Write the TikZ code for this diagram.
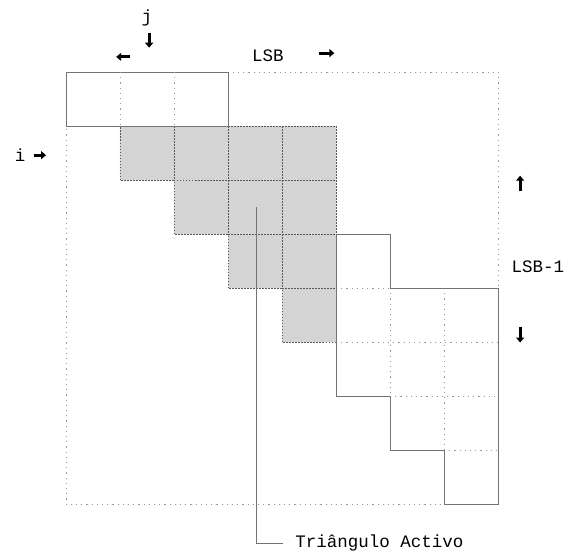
\documentclass[tikz,border=0pt]{standalone}
\usepackage{fontspec}
\setmonofont{Liberation Mono}
\usetikzlibrary{arrows.meta}

\tikzset{
  gridline/.style={draw=black!40, line width=0.7pt, dash pattern=on 1.2pt off 4pt},
  cellline/.style={draw=black!55, line width=0.7pt},
  shadeline/.style={draw=black!65, line width=0.7pt, dash pattern=on 1.5pt off 1.5pt},
  tick/.style={line width=3pt, -{Triangle[length=5pt,width=8pt]}},
  lbl/.style={font=\ttfamily\fontsize{17.5}{20}\selectfont, inner sep=0pt},
}

\begin{document}
\begin{tikzpicture}[x=54pt, y=-54pt]
\useasboundingbox (-1.2222,-1.3333) rectangle (9.2407,8.8889);

% outer frame LSB x LSB-1
\draw[gridline] (0,0) rectangle (8,8);

% shaded active triangle
\fill[black!17] (1,1) -- (5,1) -- (5,5) -- (4,5) -- (4,4) -- (3,4) -- (3,3)
  -- (2,3) -- (2,2) -- (1,2) -- cycle;
\foreach \k in {2,3,4} {
  \draw[shadeline] (\k,\k) -- (5,\k);
  \draw[shadeline] (\k,1) -- (\k,\k);
}
\draw[shadeline] (1,1) -- (5,1) -- (5,5) -- (4,5) -- (4,4) -- (3,4) -- (3,3)
  -- (2,3) -- (2,2) -- (1,2) -- cycle;

% first row
\draw[cellline] (0,0) rectangle (3,1);
\foreach \k in {1,2} \draw[gridline] (\k,0) -- (\k,1);

% lower staircase
\draw[gridline] (5,4) -- (6,4);
\draw[gridline] (5,5) -- (8,5);
\draw[gridline] (6,6) -- (8,6);
\draw[gridline] (7,7) -- (8,7);
\draw[gridline] (6,4) -- (6,6);
\draw[gridline] (7,4) -- (7,7);
\draw[cellline] (5,3) -- (6,3) -- (6,4) -- (8,4) -- (8,8) -- (7,8) -- (7,7)
  -- (6,7) -- (6,6) -- (5,6) -- cycle;

% labels and markers
\node[lbl] (j) at (1.5,-1.0) {j};
\draw[tick] (1.54,-0.72) -- (1.54,-0.45);
\draw[tick] (1.19,-0.28) -- (0.93,-0.28);
\node[lbl] (lsb) at (3.74,-0.31) {LSB};
\draw[tick] (4.69,-0.35) -- (4.97,-0.35);

\node[lbl] (i) at (-0.85,1.54) {i};
\draw[tick] (-0.60,1.54) -- (-0.37,1.54);

\draw[tick] (8.41,2.21) -- (8.41,1.92);
\node[lbl] (lsbm) at (8.74,3.61) {LSB-1};
\draw[tick] (8.41,4.72) -- (8.41,5.01);

% pointer to the triangle
\coordinate (tip) at (3.52,2.5);
\node[lbl, anchor=west, inner xsep=12pt] (act) at (4.02,8.72) {Triângulo Activo};
\draw[cellline] (tip) |- (act.west);
\end{tikzpicture}
\end{document}
